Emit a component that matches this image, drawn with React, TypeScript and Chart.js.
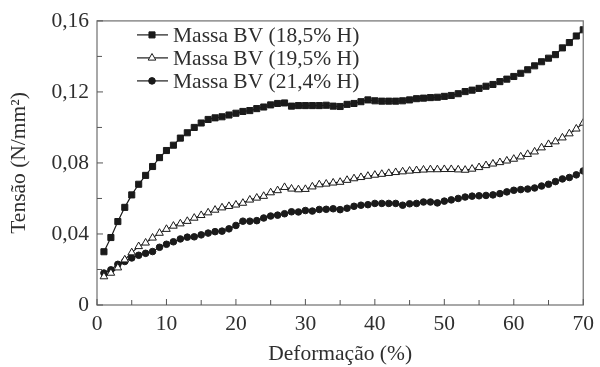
import React, { useEffect, useRef } from "react";
import { Chart, registerables } from "chart.js";
import { drawPoint } from "chart.js/helpers";

Chart.register(...registerables);

const deformation = [
  1, 2, 3, 4, 5, 6, 7, 8, 9, 10, 11, 12, 13, 14, 15, 16, 17, 18, 19, 20,
  21, 22, 23, 24, 25, 26, 27, 28, 29, 30, 31, 32, 33, 34, 35, 36, 37, 38, 39, 40,
  41, 42, 43, 44, 45, 46, 47, 48, 49, 50, 51, 52, 53, 54, 55, 56, 57, 58, 59, 60,
  61, 62, 63, 64, 65, 66, 67, 68, 69, 70,
];

const massa185 = [
  0.030, 0.038, 0.047, 0.055, 0.062, 0.068, 0.073, 0.078, 0.083, 0.087,
  0.090, 0.094, 0.097, 0.100, 0.1025, 0.1045, 0.1054, 0.106, 0.107, 0.108,
  0.109, 0.1095, 0.1106, 0.1115, 0.1127, 0.1135, 0.1138, 0.112, 0.1123, 0.1123,
  0.1123, 0.1123, 0.1125, 0.112, 0.1118, 0.113, 0.1135, 0.1145, 0.1155, 0.115,
  0.1148, 0.1148, 0.1148, 0.115, 0.1155, 0.1162, 0.1165, 0.1168, 0.117, 0.1175,
  0.118, 0.119, 0.1202, 0.121, 0.122, 0.1232, 0.1242, 0.1258, 0.1272, 0.1287,
  0.1305, 0.1325, 0.1347, 0.137, 0.139, 0.141, 0.1448, 0.1478, 0.1515, 0.155,
];

const massa195 = [
  0.016, 0.018, 0.021, 0.0255, 0.0295, 0.033, 0.035, 0.0378, 0.0405, 0.0427,
  0.0445, 0.0458, 0.0472, 0.049, 0.0505, 0.052, 0.0535, 0.0548, 0.0556, 0.0564,
  0.0574, 0.0592, 0.0603, 0.0613, 0.0633, 0.0645, 0.0663, 0.0654, 0.065, 0.0652,
  0.0666, 0.0678, 0.0682, 0.0688, 0.0692, 0.0703, 0.0712, 0.0719, 0.0726, 0.0732,
  0.0737, 0.0742, 0.0747, 0.0751, 0.0755, 0.0758, 0.0761, 0.0763, 0.0763, 0.0764,
  0.0764, 0.0762, 0.076, 0.0766, 0.0775, 0.0786, 0.0795, 0.0803, 0.0812, 0.0822,
  0.0835, 0.0849, 0.0863, 0.0886, 0.0905, 0.092, 0.0942, 0.0965, 0.0992, 0.1025,
];

const massa214 = [
  0.018, 0.0198, 0.0229, 0.0245, 0.0265, 0.028, 0.0291, 0.0301, 0.0325, 0.0342,
  0.0356, 0.0372, 0.0382, 0.0384, 0.0395, 0.0405, 0.0413, 0.0416, 0.0429, 0.0448,
  0.0472, 0.0472, 0.0475, 0.049, 0.0501, 0.0506, 0.0514, 0.0525, 0.0524, 0.0532,
  0.0529, 0.0538, 0.0539, 0.0542, 0.0537, 0.0545, 0.0556, 0.0562, 0.0565, 0.0572,
  0.0572, 0.0572, 0.0572, 0.0562, 0.057, 0.0572, 0.058, 0.058, 0.0575, 0.0585,
  0.0592, 0.06, 0.0608, 0.0613, 0.0615, 0.0617, 0.062, 0.0627, 0.0637, 0.0646,
  0.065, 0.0653, 0.0659, 0.067, 0.068, 0.0695, 0.071, 0.0718, 0.0733, 0.0755,
];

const seriesNames = ["Massa BV (18,5% H)", "Massa BV (19,5% H)", "Massa BV (21,4% H)"];
const xMinorTicks = [0, 5, 10, 15, 20, 25, 30, 35, 40, 45, 50, 55, 60, 65, 70];
const yMinorTicks = [0, 0.02, 0.04, 0.06, 0.08, 0.1, 0.12, 0.14, 0.16];

const FONT = "'Liberation Serif', 'Times New Roman', serif";
const FSIZE = 21.5;
const TEXT = "#2e2e2e";
const INK = "#1a1a1a";
const FRAME = "#7a7a7a";

const toPoints = (ys: number[]) => deformation.map((x, i) => ({ x, y: ys[i] }));

const pointStyles = ["rect", "triangle", "circle"];
const pointRadii = [4.3, 4.4, 3.3];
const pointFills = [INK, "#ffffff", INK];

const framePlugin = {
  id: "frameTicks",
  afterDraw(chart: any) {
    const { ctx, chartArea, scales } = chart;
    const { left, right, top, bottom } = chartArea;
    ctx.save();
    ctx.strokeStyle = FRAME;
    ctx.lineWidth = 1.3;
    ctx.strokeRect(left, top, right - left, bottom - top);
    ctx.strokeStyle = "#555";
    ctx.lineWidth = 1;
    ctx.beginPath();
    xMinorTicks.forEach((v) => {
      const px = scales.x.getPixelForValue(v);
      const len = v % 10 === 0 ? 6 : 5;
      ctx.moveTo(px, bottom);
      ctx.lineTo(px, bottom - len);
    });
    yMinorTicks.forEach((v, i) => {
      const py = scales.y.getPixelForValue(v);
      const len = i % 2 === 0 ? 6 : 5;
      ctx.moveTo(left, py);
      ctx.lineTo(left + len, py);
    });
    ctx.stroke();

    // legend
    const rowsY = [top + 14, top + 37, top + 60];
    ctx.font = `${FSIZE}px ${FONT}`;
    ctx.textBaseline = "middle";
    ctx.textAlign = "left";
    chart.data.datasets.forEach((ds: any, i: number) => {
      const y = rowsY[i];
      ctx.strokeStyle = INK;
      ctx.lineWidth = 1.2;
      ctx.beginPath();
      ctx.moveTo(left + 40, y);
      ctx.lineTo(left + 71, y);
      ctx.stroke();
      ctx.fillStyle = pointFills[i];
      ctx.strokeStyle = INK;
      ctx.lineWidth = 1;
      drawPoint(ctx, { pointStyle: pointStyles[i] as any, radius: pointRadii[i], rotation: 0, borderWidth: 1 }, left + 55, y);
      ctx.fillStyle = TEXT;
      ctx.fillText(ds.label, left + 76, y + 1);
    });
    ctx.restore();
  },
};

export default function App() {
  const ref = useRef<HTMLCanvasElement | null>(null);
  useEffect(() => {
    if (!ref.current) return;
    const chart = new Chart(ref.current, {
      type: "line",
      data: {
        datasets: [massa185, massa195, massa214].map((ys, i) => ({
          label: seriesNames[i],
          data: toPoints(ys),
          borderColor: INK,
          borderWidth: 1.2,
          backgroundColor: pointFills[i],
          pointStyle: pointStyles[i] as any,
          pointRadius: pointRadii[i],
          pointBorderColor: INK,
          pointBorderWidth: 1,
          pointBackgroundColor: pointFills[i],
          tension: 0,
          fill: false,
        })),
      },
      options: {
        animation: false,
        responsive: false,
        maintainAspectRatio: false,
        layout: { padding: { left: 0, right: 12, top: 20, bottom: 0 } },
        plugins: { legend: { display: false }, tooltip: { enabled: false } },
        scales: {
          x: {
            type: "linear",
            min: 0,
            max: 70,
            grid: { display: false, drawTicks: false },
            border: { display: false },
            ticks: {
              stepSize: 10,
              padding: 6,
              color: TEXT,
              font: { family: FONT, size: FSIZE },
            },
            title: {
              display: true,
              text: "Deformação (%)",
              color: TEXT,
              font: { family: FONT, size: FSIZE },
              padding: 0,
            },
            afterFit: (s: any) => {
              s.height = 62;
            },
          },
          y: {
            type: "linear",
            min: 0,
            max: 0.16,
            grid: { display: false, drawTicks: false },
            border: { display: false },
            ticks: {
              stepSize: 0.04,
              padding: 8,
              color: TEXT,
              font: { family: FONT, size: FSIZE },
              callback: (v: any) => (Number(v) === 0 ? "0" : Number(v).toFixed(2).replace(".", ",")),
            },
            title: {
              display: true,
              text: "Tensão (N/mm²)",
              color: TEXT,
              font: { family: FONT, size: FSIZE },
              padding: { top: 6, bottom: 0 },
            },
            afterFit: (s: any) => {
              s.width = 97;
            },
          },
        },
      },
      plugins: [framePlugin],
    });
    return () => chart.destroy();
  }, []);
  return (
    <div style={{ position: "fixed", left: 0, top: 0, width: 600, height: 367, background: "#fff" }}>
      <canvas ref={ref} width={600} height={367} style={{ display: "block", width: 600, height: 367 }} />
    </div>
  );
}
